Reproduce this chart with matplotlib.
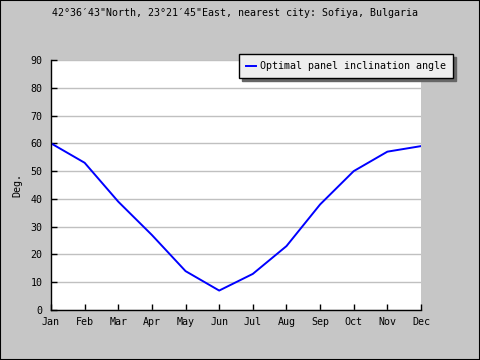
import matplotlib
matplotlib.use("Agg")
import matplotlib.pyplot as plt
from matplotlib.patches import Rectangle

months = ['Jan', 'Feb', 'Mar', 'Apr', 'May', 'Jun', 'Jul', 'Aug', 'Sep', 'Oct', 'Nov', 'Dec']
angle = [60, 53, 39, 27, 14, 7, 13, 23, 38, 50, 57, 59]
yticks = list(range(0, 91, 10))

title = '42°36′43"North, 23°21′45"East, nearest city: Sofiya, Bulgaria'

plt.rcParams['font.family'] = ['DejaVu Sans Mono']

fig = plt.figure(figsize=(4.8, 3.6), dpi=100, facecolor='#c6c6c6')
fig.patches.append(Rectangle((0, 0), 1, 1, transform=fig.transFigure,
                             fill=False, edgecolor='black', linewidth=1.5))

W, H = 480.0, 360.0
ax = fig.add_axes([51 / W, 50 / H, 370 / W, 250 / H])
ax.set_facecolor('white')

x = list(range(len(months)))
ax.plot(x, angle, color='#0000ff', linewidth=1.4, label='Optimal panel inclination angle')

ax.set_xlim(0, len(months) - 1)
ax.set_ylim(0, 90)
ax.set_xticks(x)
ax.set_xticklabels(months)
ax.set_yticks(yticks)
ax.grid(axis='y', color='#c0c0c0', linewidth=1)
ax.set_axisbelow(True)
for s in ['top', 'right']:
    ax.spines[s].set_visible(False)
for s in ['left', 'bottom']:
    ax.spines[s].set_linewidth(1)
ax.tick_params(direction='in', length=4, width=1, labelsize=7.2)
ax.tick_params(axis='x', pad=5)
ax.tick_params(axis='y', pad=6)
ax.set_ylabel('Deg.', fontsize=7.2, labelpad=6)

fig.text(235 / W, 1 - 13 / H, title, ha='center', va='center', fontsize=7.2)

leg = ax.legend(loc='upper right', bbox_to_anchor=(453 / W, 1 - 54 / H),
                bbox_transform=fig.transFigure, fontsize=7.2, frameon=True,
                fancybox=False, shadow={'color': '#666666', 'alpha': 1},
                handlelength=1.0, handletextpad=0.4, borderpad=0.7,
                borderaxespad=0)
leg.get_frame().set_facecolor('#eeeeee')
leg.get_frame().set_edgecolor('black')
leg.get_frame().set_linewidth(1)
leg.get_frame().set_alpha(1)

fig.savefig('out.png', dpi=100, facecolor=fig.get_facecolor())
